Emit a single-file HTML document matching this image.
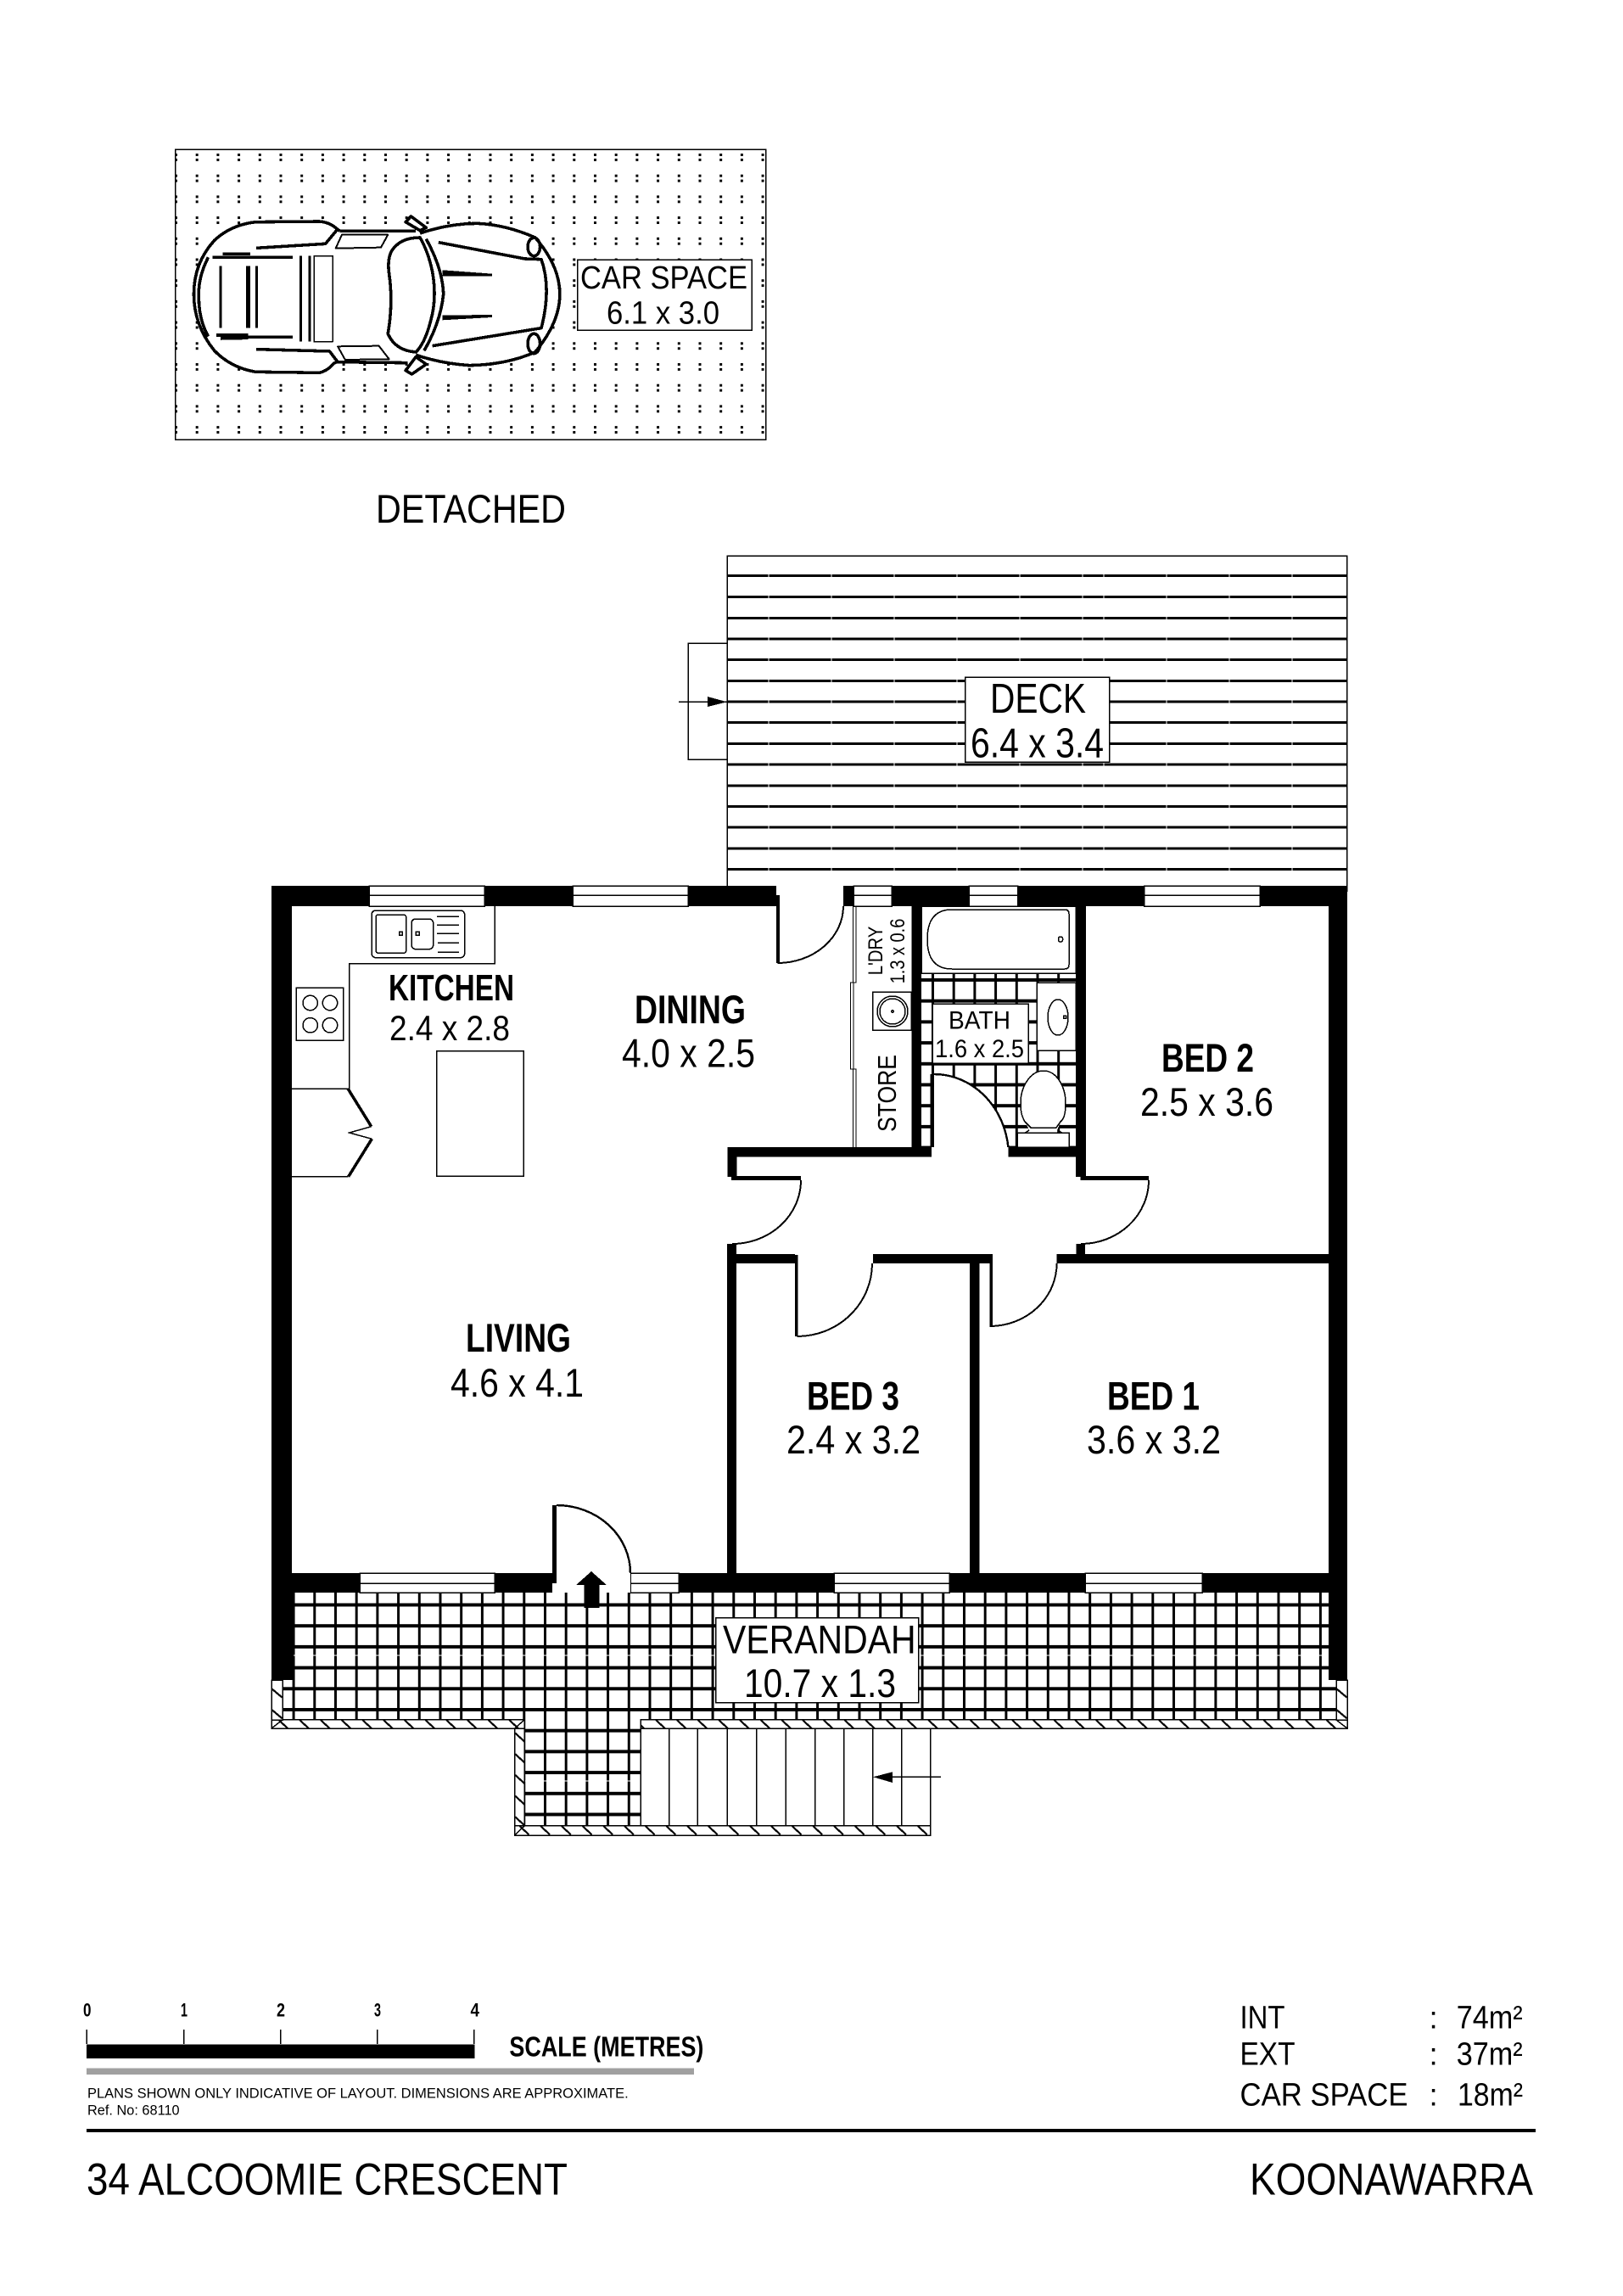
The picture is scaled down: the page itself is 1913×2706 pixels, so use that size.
<!DOCTYPE html>
<html><head><meta charset="utf-8"><title>34 Alcoomie Crescent floor plan</title>
<style>
html,body{margin:0;padding:0;background:#fff}
svg{display:block;shape-rendering:crispEdges}
text{font-family:"Liberation Sans",Arial,sans-serif;fill:#000}
.b{font-weight:bold}
.car path,.car ellipse,.car rect{vector-effect:non-scaling-stroke}
.w{fill:#fff;stroke:#000;stroke-width:1.5}
.t{fill:none;stroke:#000;stroke-width:1.5}
.d{fill:#fff;stroke:#000;stroke-width:2}
</style></head><body>
<svg xmlns="http://www.w3.org/2000/svg" width="1913" height="2706" viewBox="0 0 1913 2706">
<defs>
<pattern id="dots" patternUnits="userSpaceOnUse" x="206" y="181" width="24.7" height="24.7"><rect x="0" y="0" width="3" height="3" fill="#000"/><rect x="0" y="6" width="3" height="3" fill="#000"/></pattern>
<pattern id="tile" patternUnits="userSpaceOnUse" x="369.3" y="1889.5" width="24.7" height="24.7"><rect x="0" y="0" width="24.7" height="3.8" fill="#000"/><rect x="0" y="0" width="3.2" height="24.7" fill="#000"/></pattern>
<pattern id="btile" patternUnits="userSpaceOnUse" x="1098" y="1153" width="24.7" height="24.7"><rect x="0" y="0" width="24.7" height="3.8" fill="#000"/><rect x="0" y="0" width="3.2" height="24.7" fill="#000"/></pattern>
<pattern id="h1" patternUnits="userSpaceOnUse" x="328" y="2026.7" width="24.7" height="24.7"><path d="M0 0L11.5 10.6" stroke="#000" stroke-width="2.2" fill="none"/></pattern>
<pattern id="h2" patternUnits="userSpaceOnUse" x="612" y="2151.7" width="24.7" height="24.7"><path d="M0 0L11.5 10.6" stroke="#000" stroke-width="2.2" fill="none"/></pattern>
<pattern id="v1" patternUnits="userSpaceOnUse" x="606.7" y="2042" width="24.7" height="24.7"><path d="M0 0L11.5 10.6" stroke="#000" stroke-width="2.2" fill="none"/></pattern>
<pattern id="v2" patternUnits="userSpaceOnUse" x="320" y="1990" width="24.7" height="24.7"><path d="M0 0L12.5 10.6" stroke="#000" stroke-width="2.2" fill="none"/></pattern>
<pattern id="v3" patternUnits="userSpaceOnUse" x="1575" y="1990" width="24.7" height="24.7"><path d="M0 0L12.5 10.6" stroke="#000" stroke-width="2.2" fill="none"/></pattern>
</defs>
<rect width="1913" height="2706" fill="#fff"/>

<!-- car space -->
<rect x="206.7" y="176.3" width="696" height="342" fill="url(#dots)"/>
<rect x="206.7" y="176.3" width="696" height="342" class="t"/>
<g class="car" transform="matrix(.4847 0 0 .3333 180 150)" fill="none" stroke="#000" stroke-width="3.6" stroke-linejoin="round">
<path fill="#fff" stroke="none" d="M250 335L405 333Q425 335 455 365L640 367Q720 340 790 340Q860 345 930 390Q990 490 990 590Q990 690 930 795Q860 840 770 842Q700 835 640 833L445 832Q425 862 405 868L250 865Q190 850 150 790Q100 700 100 590Q100 480 150 400Q190 345 250 335Z"/>
<path d="M455 367L440 350Q425 335 405 333L250 335Q190 345 150 400Q100 480 100 590Q100 700 150 790Q190 850 250 865L405 868Q425 862 440 835L447 830L620 833"/>
<path d="M455 367L640 367"/>
<path d="M135 460Q110 530 112 600Q112 680 135 740"/>
<path d="M650 375Q720 340 790 340Q860 345 930 390Q990 490 990 590Q990 690 930 795Q860 840 770 842Q700 835 640 805"/>
<path d="M695 407L905 465L945 467Q970 570 945 710L680 773"/>
<ellipse cx="927" cy="423" rx="15" ry="32"/><ellipse cx="927" cy="765" rx="15" ry="35"/>
<path d="M650 390Q600 390 580 440Q570 470 575 520Q585 620 572 730Q590 790 640 795Q665 760 680 660Q690 590 680 510Q670 440 650 390Z"/>
<path d="M665 395Q705 500 707 590Q700 690 660 790"/>
<path fill="#fff" d="M615 335L628 315L665 355L650 365Z"/>
<path fill="#fff" d="M615 860L630 873L665 838L640 812Z"/>
<path d="M460 380L572 380L555 425L445 428Z" stroke-width="2"/>
<path d="M450 775L550 773L575 820L468 822Z" stroke-width="2"/>
<path d="M252 427L420 412L447 365"/>
<path d="M252 785L430 792L450 830"/>
<path d="M145 460L340 460M170 448L237 448M155 735L232 735M165 747L232 745M232 742L340 742"/>
<path d="M165 490V710M253 490V710M360 455V758M382 455V758" stroke-width="3"/>
<path d="M232 490V710" stroke-width="5"/>
<rect x="392" y="455" width="46" height="303" stroke-width="1.5"/>
<path fill="#000" stroke="none" d="M705 505L825 518V526L705 527Z"/>
<path fill="#000" stroke="none" d="M705 665L825 663V672L705 682Z"/>
</g>
<rect x="680.7" y="306" width="205.6" height="83.3" class="w"/>
<text x="684" y="340" font-size="38" textLength="197" lengthAdjust="spacingAndGlyphs">CAR SPACE</text>
<text x="715" y="381.7" font-size="38" textLength="133" lengthAdjust="spacingAndGlyphs">6.1 x 3.0</text>
<text x="443" y="616" font-size="47" textLength="224" lengthAdjust="spacingAndGlyphs">DETACHED</text>

<!-- deck -->
<rect x="857.3" y="655" width="730.2" height="395" class="t"/>
<path d="M857.3 678.7H1587.5M857.3 703.3H1587.5M857.3 728.3H1587.5M857.3 753H1587.5M857.3 777.7H1587.5M857.3 802.3H1587.5M857.3 827H1587.5M857.3 851.7H1587.5M857.3 876.3H1587.5M857.3 901H1587.5M857.3 926H1587.5M857.3 950.3H1587.5M857.3 975H1587.5M857.3 1000H1587.5M857.3 1024.3H1587.5" stroke="#000" stroke-width="3" fill="none"/>
<path d="M906 657V1040M980 657V1040M1054 657V1040M1128 657V1040M1202 657V1040M1276 657V1040M1301 657V1040M1375 657V1040M1449 657V1040M1523 657V1040" stroke="#fff" stroke-width="1" fill="none"/>
<path d="M857.3 758H811V895H857.3" class="t"/>
<path d="M800 827.3H857" class="t"/>
<path d="M834 821L857 827.3L834 833Z" fill="#000"/>
<rect x="1137.6" y="798" width="170.1" height="100" class="w"/>
<text x="1167" y="840" font-size="49" textLength="113" lengthAdjust="spacingAndGlyphs">DECK</text>
<text x="1144" y="892.7" font-size="49" textLength="157" lengthAdjust="spacingAndGlyphs">6.4 x 3.4</text>

<!-- verandah tiles -->
<rect x="333" y="1877" width="1242" height="150" fill="url(#tile)"/>
<rect x="618" y="2027" width="137" height="125" fill="url(#tile)"/>
<path d="M346 1951H1566M618 2099H755" stroke="#fff" stroke-width="1"/>

<!-- bands -->
<rect x="320" y="2026.7" width="298" height="10.6" fill="#fff"/><rect x="320" y="2026.7" width="298" height="10.6" fill="url(#h1)"/><rect x="320" y="2026.7" width="298" height="10.6" class="t"/>
<rect x="755" y="2026.7" width="833" height="10.6" fill="#fff"/><rect x="755" y="2026.7" width="833" height="10.6" fill="url(#h1)"/><rect x="755" y="2026.7" width="833" height="10.6" class="t"/>
<rect x="606.7" y="2151.7" width="489.8" height="11.6" fill="#fff"/><rect x="606.7" y="2151.7" width="489.8" height="11.6" fill="url(#h2)"/><rect x="606.7" y="2151.7" width="489.8" height="11.6" class="t"/>
<rect x="606.7" y="2037.3" width="11.5" height="114.4" fill="#fff"/><rect x="606.7" y="2037.3" width="11.5" height="114.4" fill="url(#v1)"/><rect x="606.7" y="2037.3" width="11.5" height="114.4" class="t"/>
<rect x="320" y="1980" width="13" height="47" fill="#fff"/><rect x="320" y="1980" width="13" height="47" fill="url(#v2)"/><rect x="320" y="1980" width="13" height="47" class="t"/>
<rect x="1575" y="1980" width="13" height="47" fill="#fff"/><rect x="1575" y="1980" width="13" height="47" fill="url(#v3)"/><rect x="1575" y="1980" width="13" height="47" class="t"/>
<path d="M320 2037L333 2027M606.7 2037L618 2027M606.7 2163L618 2152M1588 2037L1575 2027" class="t"/>

<!-- steps -->
<rect x="755" y="2037.3" width="341.5" height="114.4" class="w"/>
<path d="M788.5 2037V2152M822.4 2037V2152M857.4 2037V2152M891.9 2037V2152M926.3 2037V2152M960.8 2037V2152M994.6 2037V2152M1028.5 2037V2152M1062.9 2037V2152" class="t"/>
<path d="M1108.8 2094.3H1050" class="t"/>
<path d="M1029 2094.3L1052 2088.3V2101Z" fill="#000"/>

<!-- bathroom floor -->
<rect x="1086" y="1147" width="182" height="205" fill="url(#btile)"/>

<!-- walls -->
<g fill="#000">
<rect x="320" y="1044" width="1268" height="24"/>
<rect x="320" y="1044" width="24" height="833"/>
<rect x="320" y="1877" width="26" height="103"/>
<rect x="1566" y="1044" width="22" height="936"/>
<rect x="320" y="1854" width="1268" height="23"/>
<rect x="1074.4" y="1068" width="11.6" height="295"/>
<rect x="1268" y="1068" width="12" height="319"/>
<rect x="857.6" y="1352" width="240.4" height="11.3"/>
<rect x="1086" y="1352" width="16" height="11"/>
<rect x="1188.5" y="1352" width="90.5" height="11.3"/>
<rect x="857.6" y="1352" width="10.8" height="35"/>
<rect x="857" y="1478" width="80" height="11"/>
<rect x="1029" y="1478" width="137.5" height="11"/>
<rect x="1245.6" y="1478" width="320.4" height="11"/>
<rect x="857" y="1466" width="11" height="388"/>
<rect x="1143" y="1478" width="11.5" height="376"/>
<rect x="1268.6" y="1466" width="10.4" height="12"/>
</g>

<!-- windows -->
<g class="w">
<rect x="435" y="1044" width="136" height="24"/><rect x="675" y="1044" width="136" height="24"/><rect x="1006" y="1044" width="45" height="24"/><rect x="1142" y="1044" width="57.5" height="24"/><rect x="1348.6" y="1044" width="136.4" height="24"/>
<rect x="424" y="1854" width="159" height="23"/><rect x="743" y="1854" width="57" height="23"/><rect x="983" y="1854" width="136" height="23"/><rect x="1279" y="1854" width="138" height="23"/>
</g>
<path d="M435 1055H571M675 1055H811M1006 1055H1051M1142 1055H1199.5M1348.6 1055H1485M424 1866H583M743 1866H800M983 1866H1119M1279 1866H1417" class="t"/>

<!-- doors -->
<rect x="915" y="1044" width="79" height="11" fill="#fff"/><rect x="918" y="1055" width="76" height="13" fill="#fff"/>
<path d="M916.5 1135A77.5 67 0 0 0 994 1068" class="d" fill="none"/>
<rect x="915" y="1055" width="4" height="80" fill="#000"/>
<rect x="651" y="1866" width="92" height="11" fill="#fff"/><rect x="656" y="1854" width="87" height="12" fill="#fff"/>
<path d="M656 1774A87 80 0 0 1 743 1854" class="t" style="stroke-width:2.4"/>
<rect x="651" y="1774" width="5" height="92" fill="#000"/>
<!-- bath door -->
<path d="M1101 1266A88 97 0 0 1 1189 1363H1101Z" fill="#fff"/>
<path d="M1101 1266A88 97 0 0 1 1189 1363" class="t" style="stroke-width:2.4"/>
<rect x="1096.7" y="1266" width="4" height="97" fill="#000"/>
<rect x="1098" y="1352" width="90.5" height="12" fill="#fff"/>
<!-- hall doors -->
<path d="M944 1391A81 75 0 0 1 863 1466" class="t" style="stroke-width:2"/><rect x="862" y="1386" width="82" height="5" fill="#000"/>
<path d="M1354 1391A80 75 0 0 1 1274 1466" class="t" style="stroke-width:2"/><rect x="1273.7" y="1386" width="80.3" height="5" fill="#000"/>
<path d="M1028 1489A88.5 86 0 0 1 939.5 1575" class="t" style="stroke-width:2"/><rect x="937" y="1478" width="3.5" height="97" fill="#000"/>
<path d="M1245.6 1489A79 74 0 0 1 1166.5 1563" class="t" style="stroke-width:2"/><rect x="1166.5" y="1478" width="3.5" height="86" fill="#000"/>
<rect x="937" y="1478" width="92" height="1" fill="#fff"/>

<!-- entry arrow -->
<path d="M697 1852L715 1868H706.4V1895H688.6V1868H679Z" fill="#000"/>

<!-- kitchen -->
<path d="M583 1068V1135.7H411.7V1283H344M344 1386.7H410.7" class="t"/>
<path d="M410 1283L437.7 1327.7M438.3 1342.3L410.7 1386.7" stroke="#000" stroke-width="3.5" fill="none"/>
<path d="M437.7 1327.7L411.7 1335L438.3 1342.3" class="t"/>
<rect x="349" y="1164" width="55.7" height="62" class="t"/>
<circle cx="365.7" cy="1182" r="8.7" class="t"/><circle cx="389" cy="1182" r="8.7" class="t"/><circle cx="365.7" cy="1208.3" r="8.7" class="t"/><circle cx="389" cy="1208.3" r="8.7" class="t"/>
<rect x="438" y="1073" width="109.7" height="55.7" rx="5" class="t"/>
<rect x="443" y="1078" width="35.7" height="45.3" rx="3" class="t"/>
<rect x="485" y="1083" width="25.7" height="35.7" rx="5" class="t"/>
<rect x="470.5" y="1098" width="3.5" height="4" class="t"/><rect x="490" y="1098" width="4" height="4" class="t"/>
<path d="M515 1080H541M515 1090H541M515 1100H541M516 1111H541M516 1122H541" class="t"/>
<rect x="514.7" y="1238.7" width="102.6" height="147.6" class="t"/>

<!-- laundry/store -->
<path d="M1005.6 1068V1158H1002.5V1260H1005.6V1352M1009 1068V1158H1006V1260H1009V1352" stroke="#000" stroke-width="1" fill="none"/>
<rect x="1028.6" y="1169" width="45.4" height="45" class="t"/>
<circle cx="1052" cy="1192" r="18" class="t"/><circle cx="1052" cy="1192" r="15" class="t"/><circle cx="1052" cy="1192" r="1.2" class="t"/>

<!-- bathroom fixtures -->
<rect x="1086" y="1068" width="182" height="79" class="w"/>
<path d="M1122 1072H1255Q1260 1072 1260 1077V1137Q1260 1142 1255 1142H1122Q1093 1142 1093 1107Q1093 1072 1122 1072Z" class="t"/>
<rect x="1247.5" y="1104" width="5" height="6" rx="2" class="t"/>
<rect x="1222" y="1158" width="46" height="80" class="w"/>
<ellipse cx="1247" cy="1199" rx="12" ry="21" class="t"/>
<rect x="1253.5" y="1197" width="3" height="3" class="t"/>
<path d="M1215 1329Q1213 1333 1208 1335M1245 1329Q1247 1333 1252 1335" class="t"/>
<path d="M1208 1322L1215 1335H1245L1250 1322Z" fill="#fff"/>
<path d="M1230 1262C1245 1262 1256 1280 1256 1300C1256 1310 1255 1318 1250 1322L1245 1329H1215L1208 1322C1204 1315 1203 1310 1203 1300C1203 1280 1215 1262 1230 1262Z" class="w"/>
<rect x="1199" y="1335" width="61" height="17" class="w"/>
<rect x="1099" y="1183" width="113" height="70" class="w"/>

<!-- room labels -->
<text x="458" y="1179" font-size="44" class="b" textLength="148" lengthAdjust="spacingAndGlyphs">KITCHEN</text>
<text x="459" y="1226" font-size="42" textLength="142" lengthAdjust="spacingAndGlyphs">2.4 x 2.8</text>
<text x="748" y="1206" font-size="47" class="b" textLength="131" lengthAdjust="spacingAndGlyphs">DINING</text>
<text x="733" y="1257.7" font-size="47" textLength="157" lengthAdjust="spacingAndGlyphs">4.0 x 2.5</text>
<text transform="translate(1040 1149.3) rotate(-90)" font-size="24" textLength="57.6" lengthAdjust="spacingAndGlyphs">L'DRY</text>
<text transform="translate(1066 1159.3) rotate(-90)" font-size="24" textLength="76.6" lengthAdjust="spacingAndGlyphs">1.3 x 0.6</text>
<text transform="translate(1056 1334) rotate(-90)" font-size="31" textLength="91" lengthAdjust="spacingAndGlyphs">STORE</text>
<text x="1118" y="1212.7" font-size="30" textLength="73" lengthAdjust="spacingAndGlyphs">BATH</text>
<text x="1102" y="1246" font-size="30" textLength="105" lengthAdjust="spacingAndGlyphs">1.6 x 2.5</text>
<text x="1369" y="1263" font-size="47" class="b" textLength="109" lengthAdjust="spacingAndGlyphs">BED 2</text>
<text x="1344" y="1315" font-size="47" textLength="157" lengthAdjust="spacingAndGlyphs">2.5 x 3.6</text>
<text x="549" y="1593" font-size="47" class="b" textLength="124" lengthAdjust="spacingAndGlyphs">LIVING</text>
<text x="531" y="1646" font-size="47" textLength="157" lengthAdjust="spacingAndGlyphs">4.6 x 4.1</text>
<text x="951" y="1661.5" font-size="47" class="b" textLength="109" lengthAdjust="spacingAndGlyphs">BED 3</text>
<text x="927" y="1713" font-size="47" textLength="158" lengthAdjust="spacingAndGlyphs">2.4 x 3.2</text>
<text x="1305" y="1661.5" font-size="47" class="b" textLength="109" lengthAdjust="spacingAndGlyphs">BED 1</text>
<text x="1281" y="1713" font-size="47" textLength="158" lengthAdjust="spacingAndGlyphs">3.6 x 3.2</text>
<rect x="843.6" y="1906.7" width="238.9" height="100" class="w"/>
<text x="852" y="1948.3" font-size="47" textLength="227.6" lengthAdjust="spacingAndGlyphs">VERANDAH</text>
<text x="877" y="2000" font-size="47" textLength="179" lengthAdjust="spacingAndGlyphs">10.7 x 1.3</text>

<!-- scale -->
<g font-size="22">
<text x="98" y="2376.7" class="b" textLength="9.5" lengthAdjust="spacingAndGlyphs">0</text>
<text x="213" y="2376.7" class="b" textLength="8" lengthAdjust="spacingAndGlyphs">1</text>
<text x="326" y="2376.7" class="b" textLength="10" lengthAdjust="spacingAndGlyphs">2</text>
<text x="441" y="2376.7" class="b" textLength="8" lengthAdjust="spacingAndGlyphs">3</text>
<text x="554.5" y="2376.7" class="b" textLength="10.5" lengthAdjust="spacingAndGlyphs">4</text>
</g>
<path d="M102.4 2392V2409M216.7 2392V2409M330.5 2392V2409M444.8 2392V2409M558.6 2392V2409" class="t"/>
<rect x="102" y="2409.3" width="457.6" height="16.7" fill="#000"/>
<text x="600.4" y="2423.3" font-size="33" class="b" textLength="229" lengthAdjust="spacingAndGlyphs">SCALE (METRES)</text>
<rect x="102" y="2437.3" width="716" height="7.7" fill="#a0a0a0"/>
<text x="103" y="2472.7" font-size="17" textLength="637.7" lengthAdjust="spacingAndGlyphs">PLANS SHOWN ONLY INDICATIVE OF LAYOUT.  DIMENSIONS ARE APPROXIMATE.</text>
<text x="103" y="2492.7" font-size="17" textLength="108.6" lengthAdjust="spacingAndGlyphs">Ref. No: 68110</text>
<rect x="102" y="2509" width="1708" height="4" fill="#000"/>
<text x="102" y="2586.7" font-size="53" textLength="567" lengthAdjust="spacingAndGlyphs">34 ALCOOMIE CRESCENT</text>
<text x="1473" y="2586.7" font-size="53" textLength="334" lengthAdjust="spacingAndGlyphs">KOONAWARRA</text>

<!-- areas -->
<text x="1461.5" y="2390.7" font-size="38" textLength="53" lengthAdjust="spacingAndGlyphs">INT</text>
<text x="1461.5" y="2433.3" font-size="38" textLength="65" lengthAdjust="spacingAndGlyphs">EXT</text>
<text x="1461.5" y="2481.7" font-size="38" textLength="198" lengthAdjust="spacingAndGlyphs">CAR SPACE</text>
<text x="1684.5" y="2390.7" font-size="36.6">:</text>
<text x="1684.5" y="2433.3" font-size="36.6">:</text>
<text x="1684.5" y="2481.7" font-size="36.6">:</text>
<text x="1716.7" y="2390.7" font-size="38" textLength="78" lengthAdjust="spacingAndGlyphs">74m²</text>
<text x="1716.7" y="2433.3" font-size="38" textLength="78" lengthAdjust="spacingAndGlyphs">37m²</text>
<text x="1718" y="2481.7" font-size="38" textLength="77" lengthAdjust="spacingAndGlyphs">18m²</text>
</svg>
</body></html>
